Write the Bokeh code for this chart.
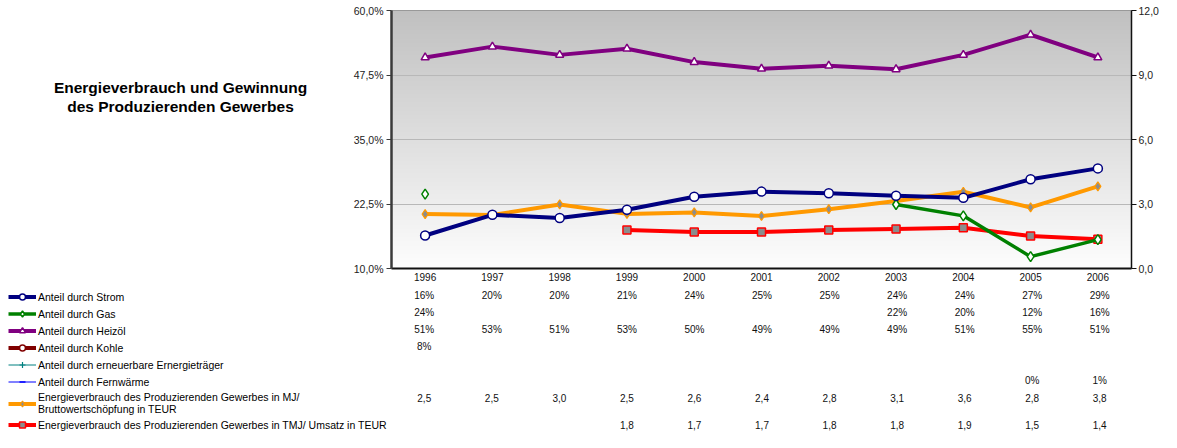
import numpy as np
from bokeh.plotting import figure
from bokeh.layouts import column, row
from bokeh.core.properties import value
from bokeh.models import (Range1d, LinearAxis, FixedTicker, LabelSet, Legend,
                          LegendItem, ColumnDataSource)
from bokeh.embed import file_html
from bokeh.resources import INLINE

NaN = float("nan")

# ---------------- data ----------------
years = [1996, 1997, 1998, 1999, 2000, 2001, 2002, 2003, 2004, 2005, 2006]
strom = [16.4, 20.4, 19.8, 21.4, 23.9, 24.9, 24.6, 24.1, 23.7, 27.3, 29.4]
gas = [24.4, NaN, NaN, NaN, NaN, NaN, NaN, 22.4, 20.2, 12.3, 15.6]
heizoel = [50.9, 53.0, 51.4, 52.6, 50.0, 48.7, 49.3, 48.6, 51.4, 55.3, 50.9]
kohle = [8.0, NaN, NaN, NaN, NaN, NaN, NaN, NaN, NaN, NaN, NaN]
erneuerbar = [NaN] * 11
fernwaerme = [NaN, NaN, NaN, NaN, NaN, NaN, NaN, NaN, NaN, 0.3, 1.0]
mj_bws = [2.53, 2.49, 2.98, 2.54, 2.61, 2.44, 2.76, 3.14, 3.57, 2.84, 3.82]
tmj_umsatz = [NaN, NaN, NaN, 1.79, 1.70, 1.70, 1.79, 1.84, 1.90, 1.51, 1.36]

left_ticks = [10.0, 22.5, 35.0, 47.5, 60.0]
left_tick_labels = ["10,0%", "22,5%", "35,0%", "47,5%", "60,0%"]
right_ticks = [0, 3, 6, 9, 12]
right_tick_labels = ["0,0", "3,0", "6,0", "9,0", "12,0"]

labels = [
    "Anteil durch Strom",
    "Anteil durch Gas",
    "Anteil durch Heizöl",
    "Anteil durch Kohle",
    "Anteil durch erneuerbare Ernergieträger",
    "Anteil durch Fernwärme",
    "Energieverbrauch des Produzierenden Gewerbes in MJ/\nBruttowertschöpfung in TEUR",
    "Energieverbrauch des Produzierenden Gewerbes in TMJ/ Umsatz in TEUR",
]
title_lines = ["Energieverbrauch und Gewinnung", "des Produzierenden Gewerbes"]

FONT = "Liberation Sans"

# ---------------- layout constants ----------------
TOTAL_W, TOTAL_H = 1161, 432
TITLE_W = 350
TOP_H = 286
MAIN_W = TOTAL_W - TITLE_W
BL, BR, BT, BB = 40, 28, 10, 18       # main figure borders
BOT_H = TOTAL_H - TOP_H

# ---------------- main chart ----------------
p = figure(width=MAIN_W, height=TOP_H, output_backend="svg", toolbar_location=None,
           x_range=Range1d(years[0] - 0.5, years[-1] + 0.5),
           y_range=Range1d(left_ticks[0], left_ticks[-1]),
           min_border_left=BL, min_border_right=BR, min_border_top=BT, min_border_bottom=BB,
           background_fill_color="white", border_fill_color="white",
           outline_line_color="#8c8c8c", outline_line_width=1)
p.extra_y_ranges = {"right": Range1d(right_ticks[0], right_ticks[-1])}

# gradient plot-area background
NG = 256
t = np.linspace(0.0, 1.0, NG)
g = np.round(253 - 61 * t).astype(np.uint8)
img = np.zeros((NG, 1), dtype=np.uint32)
v = img.view(np.uint8).reshape(NG, 1, 4)
v[:, 0, 0] = g
v[:, 0, 1] = g
v[:, 0, 2] = g
v[:, 0, 3] = 255
bg = p.image_rgba(image=[img], x=years[0] - 0.5, y=left_ticks[0],
                  dw=len(years), dh=left_ticks[-1] - left_ticks[0])
bg.level = "image"

p.xgrid.visible = False
p.ygrid.ticker = FixedTicker(ticks=left_ticks[1:-1])
p.ygrid.grid_line_color = "#b8b8b8"
p.ygrid.grid_line_width = 1

ya = p.yaxis[0]
ya.ticker = FixedTicker(ticks=left_ticks)
ya.major_label_overrides = {k: s for k, s in zip(left_ticks, left_tick_labels)}
ya.axis_line_color = "#3a3a3a"
ya.axis_line_width = 2.5
ya.major_tick_out = 5
ya.major_tick_in = 0
ya.minor_tick_out = 0
ya.minor_tick_in = 0
ya.major_tick_line_color = "#3a3a3a"
ya.major_label_standoff = 3
ya.major_label_text_font = FONT
ya.major_label_text_font_size = "10.5px"
ya.major_label_text_color = "#222222"

xa = p.xaxis[0]
xa.ticker = FixedTicker(ticks=years)
xa.axis_line_color = "#111111"
xa.axis_line_width = 2
xa.major_tick_out = 0
xa.major_tick_in = 0
xa.minor_tick_out = 0
xa.minor_tick_in = 0
xa.major_label_standoff = 4
xa.major_label_text_font = FONT
xa.major_label_text_font_size = "10px"
xa.major_label_text_color = "#111111"

ra = LinearAxis(y_range_name="right", ticker=FixedTicker(ticks=right_ticks),
                major_label_overrides={k: s for k, s in zip(right_ticks, right_tick_labels)})
ra.axis_line_color = "#111111"
ra.axis_line_width = 1.5
ra.major_tick_out = 5
ra.major_tick_in = 0
ra.minor_tick_out = 0
ra.minor_tick_in = 0
ra.major_tick_line_color = "#111111"
ra.major_label_standoff = 2
ra.major_label_text_font = FONT
ra.major_label_text_font_size = "10.5px"
ra.major_label_text_color = "#222222"
p.add_layout(ra, "right")

STYLES = [  # colour, line width, marker, marker size, marker fill, marker line width, axis
    ("#000080", 4, "circle", 9, "white", 1.5, "default"),
    ("#008000", 3.5, "diamond", 10, "white", 1.5, "default"),
    ("#800080", 4, "triangle", 8, "white", 1.5, "default"),
    ("#800000", 4, "circle", 9, "white", 1.5, "default"),
    ("#008080", 1, "cross", 8, "#008080", 1.2, "default"),
    ("#0000ff", 1, "dash", 6, "#0000ff", 1.5, "default"),
    ("#ff9900", 4, "diamond", 9, "#8c8c8c", 1.2, "right"),
    ("#ff0000", 4, "square", 8, "#8c8c8c", 1.5, "right"),
]
series_values = [strom, gas, heizoel, kohle, erneuerbar, fernwaerme, mj_bws, tmj_umsatz]


def series(fig, xs, vals, style, use_range=True):
    color, lw, marker, msize, mfill, mlw, rng = style
    kw = dict(y_range_name=rng) if use_range else {}
    src = ColumnDataSource(dict(x=xs, y=vals))
    ln = fig.line("x", "y", source=src, line_color=color, line_width=lw, line_join="round", **kw)
    sc = fig.scatter("x", "y", source=src, marker=marker, size=msize, fill_color=mfill,
                     line_color=color, line_width=mlw, **kw)
    return [ln, sc]


draw_order = [5, 4, 3, 2, 6, 7, 1, 0]
for i in draw_order:
    series(p, years, series_values[i], STYLES[i])

# ---------------- title panel ----------------
tf = figure(width=TITLE_W, height=TOP_H, output_backend="svg", toolbar_location=None,
            x_range=Range1d(0, TITLE_W), y_range=Range1d(TOP_H, 0),
            min_border_left=0, min_border_right=0, min_border_top=0, min_border_bottom=0,
            x_axis_location=None, y_axis_location=None, outline_line_color=None,
            background_fill_color="white", border_fill_color="white")
tf.xgrid.visible = False
tf.ygrid.visible = False
tf.text(x=[180, 180], y=[85, 106], text=title_lines, text_font=value(FONT),
        text_font_size="15.5px", text_font_style="bold", text_color="black",
        text_align="center", text_baseline="middle")

# ---------------- legend + data table panel ----------------
ppu = (MAIN_W - BL - BR) / len(years)          # pixels per year in the main chart
frame_x0 = TITLE_W + BL
bx0 = years[0] - 0.5 - frame_x0 / ppu
bf = figure(width=TOTAL_W, height=BOT_H, output_backend="svg", toolbar_location=None,
            x_range=Range1d(bx0, bx0 + TOTAL_W / ppu), y_range=Range1d(BOT_H, 0),
            min_border_left=0, min_border_right=0, min_border_top=0, min_border_bottom=0,
            x_axis_location=None, y_axis_location=None, outline_line_color=None,
            background_fill_color="white", border_fill_color="white")
bf.xgrid.visible = False
bf.ygrid.visible = False

# legend swatches: same styles, one empty (NaN) point each so nothing shows in the panel
legend_groups = [series(bf, [years[0]], [NaN], st, use_range=False) for st in STYLES]

GH, SP = 15, 2
legend = Legend(items=[LegendItem(label=lab, renderers=rs) for lab, rs in zip(labels, legend_groups)],
                location=(8, 0), border_line_alpha=0, background_fill_alpha=0,
                padding=0, margin=0, spacing=SP, glyph_width=28, glyph_height=GH,
                label_height=GH, label_standoff=2, label_text_font=FONT,
                label_text_font_size="10.5px", label_text_color="black",
                label_text_line_height=1.2)
bf.add_layout(legend)

DOUBLE = 25.2
leg_h = 7 * GH + DOUBLE + 7 * SP
top = BOT_H - leg_h
row_centers = [top + GH / 2 + (GH + SP) * k for k in range(7)]
row_centers.append(top + 6 * (GH + SP) + DOUBLE + SP + GH / 2)


def pct(x):
    return f"{round(x)}%"


def dec(x):
    return f"{x:.1f}".replace(".", ",")


formats = [pct, pct, pct, pct, pct, pct, dec, dec]
for vals, fmt, yc in zip(series_values, formats, row_centers):
    xs = [yr for yr, vv in zip(years, vals) if vv == vv]
    ts = [fmt(vv) for vv in vals if vv == vv]
    if not xs:
        continue
    src = ColumnDataSource(dict(x=xs, y=[yc] * len(xs), text=ts))
    bf.add_layout(LabelSet(x="x", y="y", text="text", source=src,
                           text_font=value(FONT), text_font_size="10px", text_color="#111111",
                           text_align="center", text_baseline="middle"))

layout = column(row(tf, p, spacing=0), bf, spacing=0)
open("out.html", "w").write(file_html(layout, INLINE))
